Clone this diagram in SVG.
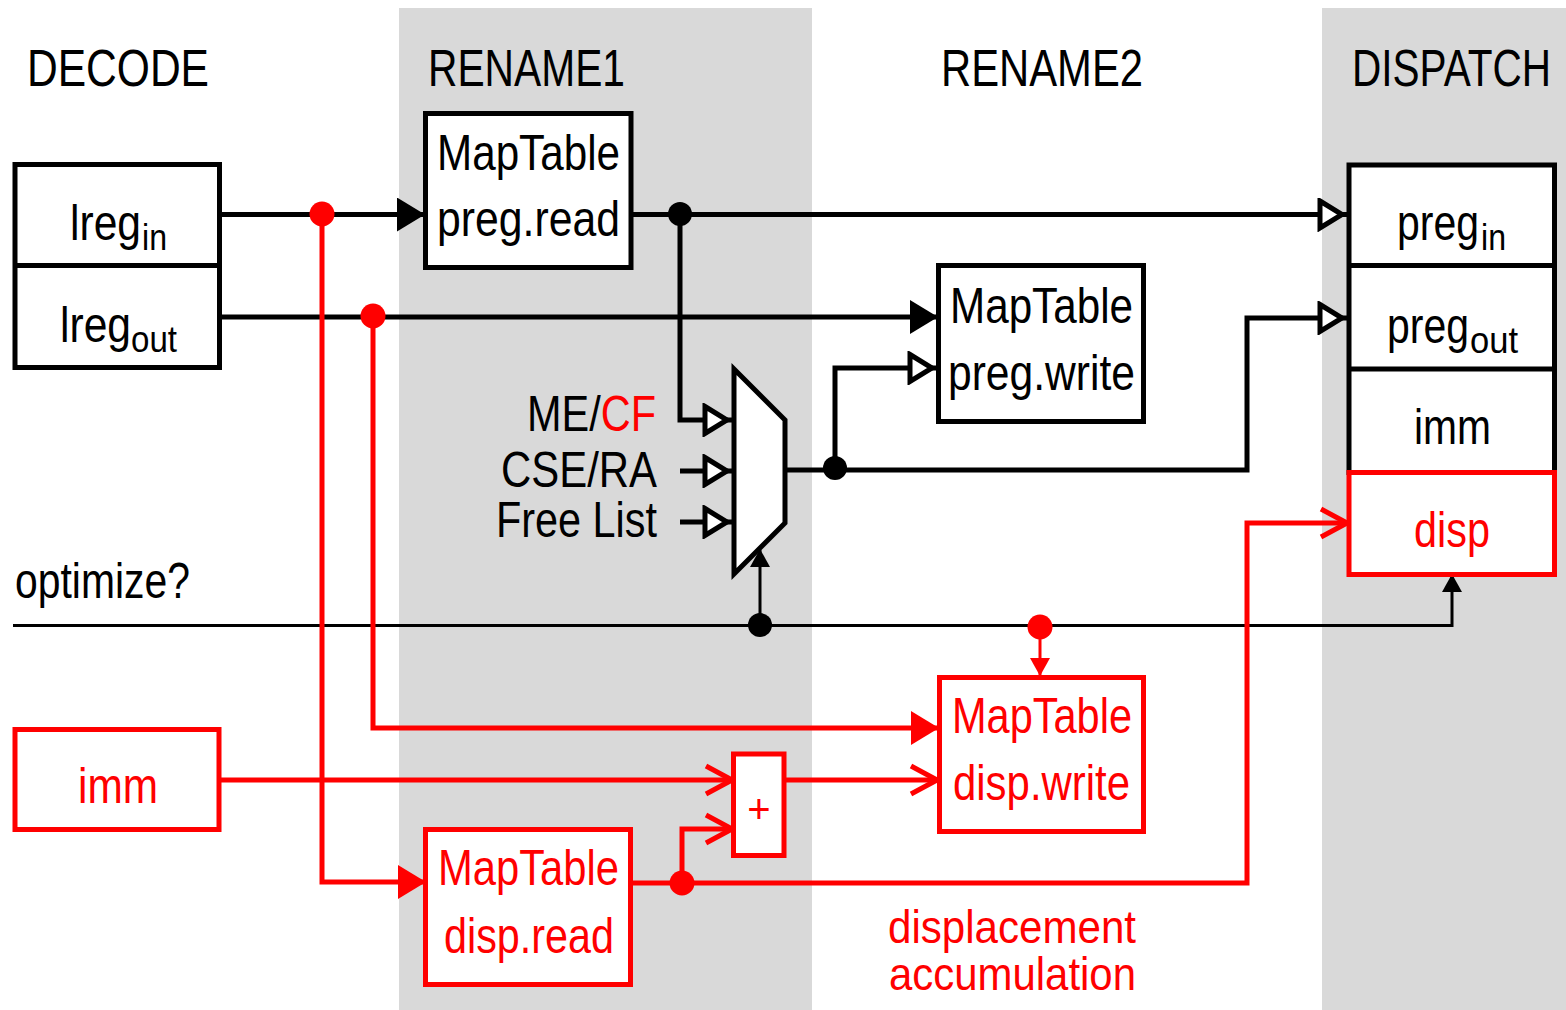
<svg xmlns="http://www.w3.org/2000/svg" width="1566" height="1010" viewBox="0 0 1566 1010">
<style>
text{font-family:"Liberation Sans",Arial,sans-serif;font-size:50px;fill:#000}
.hdr{font-size:52px}
.red{fill:#ff0000}
.sub{font-size:36px}
.box{fill:#fff;stroke:#000;stroke-width:5}
.rbox{fill:#fff;stroke:#ff0000;stroke-width:5}
.w{fill:none;stroke:#000;stroke-width:5}
.wt{fill:none;stroke:#000;stroke-width:3}
.r{fill:none;stroke:#ff0000;stroke-width:5}
.rt{fill:none;stroke:#ff0000;stroke-width:3}
.band{fill:#d9d9d9}
</style>
<defs>
<marker id="fb" markerUnits="userSpaceOnUse" viewBox="0 0 28 34" refX="27" refY="17" markerWidth="28" markerHeight="34" orient="auto"><path d="M0,0 L28,17 L0,34 Z" fill="#000"/></marker>
<marker id="fr" markerUnits="userSpaceOnUse" viewBox="0 0 28 34" refX="27" refY="17" markerWidth="28" markerHeight="34" orient="auto"><path d="M0,0 L28,17 L0,34 Z" fill="#ff0000"/></marker>
<marker id="ob" markerUnits="userSpaceOnUse" viewBox="0 0 32 34" refX="30" refY="17" markerWidth="32" markerHeight="34" orient="auto"><path d="M3,3.5 L25,17 L3,30.5 Z" fill="#fff" stroke="#000" stroke-width="5"/></marker>
<marker id="vr" markerUnits="userSpaceOnUse" viewBox="0 0 32 34" refX="29" refY="17" markerWidth="32" markerHeight="34" orient="auto"><path d="M2,3 L28,17 L2,31" fill="none" stroke="#ff0000" stroke-width="5"/></marker>
<marker id="sb" markerUnits="userSpaceOnUse" viewBox="0 0 18 22" refX="17" refY="11" markerWidth="18" markerHeight="22" orient="auto"><path d="M0,1 L18,11 L0,21 Z" fill="#000"/></marker>
<marker id="sr" markerUnits="userSpaceOnUse" viewBox="0 0 18 22" refX="17" refY="11" markerWidth="18" markerHeight="22" orient="auto"><path d="M0,1 L18,11 L0,21 Z" fill="#ff0000"/></marker>
</defs>

<g id="stages">
<rect class="band" x="399" y="8" width="413" height="1002"/>
<rect class="band" x="1322" y="8" width="244" height="1002"/>
<text class="hdr" x="27" y="86" textLength="182" lengthAdjust="spacingAndGlyphs">DECODE</text>
<text class="hdr" x="428" y="86" textLength="197" lengthAdjust="spacingAndGlyphs">RENAME1</text>
<text class="hdr" x="941" y="86" textLength="202" lengthAdjust="spacingAndGlyphs">RENAME2</text>
<text class="hdr" x="1352" y="86" textLength="199" lengthAdjust="spacingAndGlyphs">DISPATCH</text>
</g>

<g id="connectors">
<path class="w" d="M219,214.5 H424" marker-end="url(#fb)"/>
<path class="w" d="M219,317 H937" marker-end="url(#fb)"/>
<path class="w" d="M631,214.5 H1347" marker-end="url(#ob)"/>
<path class="w" d="M680,214.5 V420 H732" marker-end="url(#ob)"/>
<path class="w" d="M680,471 H732" marker-end="url(#ob)"/>
<path class="w" d="M680,522 H732" marker-end="url(#ob)"/>
<path class="w" d="M785,470 H1247 V318 H1347" marker-end="url(#ob)"/>
<path class="w" d="M835,470 V368 H937" marker-end="url(#ob)"/>
<path class="wt" d="M13,625.5 H1452 V575" marker-end="url(#sb)"/>
<path class="wt" d="M760,625.5 V550" marker-end="url(#sb)"/>
<circle cx="680" cy="214" r="12" fill="#000"/>
<circle cx="835" cy="468" r="12" fill="#000"/>
<circle cx="760" cy="625" r="12" fill="#000"/>
<path class="r" d="M322,214.5 V882 H425" marker-end="url(#fr)"/>
<path class="r" d="M373,317 V728 H938" marker-end="url(#fr)"/>
<path class="r" d="M219,780 H733" marker-end="url(#vr)"/>
<path class="r" d="M784,780 H938" marker-end="url(#vr)"/>
<path class="r" d="M631,883 H1247 V523 H1348" marker-end="url(#vr)"/>
<path class="r" d="M682,883 V829 H733" marker-end="url(#vr)"/>
<path class="rt" d="M1040,627 V675" marker-end="url(#sr)"/>
<circle cx="322" cy="214" r="12.5" fill="#ff0000"/>
<circle cx="373" cy="316" r="12.5" fill="#ff0000"/>
<circle cx="1040" cy="627" r="12.5" fill="#ff0000"/>
<circle cx="682" cy="883" r="12.5" fill="#ff0000"/>
</g>

<g id="decode">
<rect class="box" x="15" y="164.5" width="204.5" height="203"/>
<line x1="15" y1="265.5" x2="219.5" y2="265.5" stroke="#000" stroke-width="5"/>
<text x="70" y="240"><tspan textLength="71" lengthAdjust="spacingAndGlyphs">lreg</tspan><tspan class="sub" x="142" y="250" textLength="25" lengthAdjust="spacingAndGlyphs">in</tspan></text>
<text x="60" y="342"><tspan textLength="71" lengthAdjust="spacingAndGlyphs">lreg</tspan><tspan class="sub" x="131" y="352" textLength="46" lengthAdjust="spacingAndGlyphs">out</tspan></text>
</g>

<g id="maptable-preg-read">
<rect class="box" x="425.5" y="113.5" width="205.5" height="154"/>
<text x="437" y="170" textLength="183" lengthAdjust="spacingAndGlyphs">MapTable</text>
<text x="437" y="236" textLength="183" lengthAdjust="spacingAndGlyphs">preg.read</text>
</g>

<g id="maptable-preg-write">
<rect class="box" x="938.5" y="265.5" width="205" height="156"/>
<text x="950" y="323" textLength="183" lengthAdjust="spacingAndGlyphs">MapTable</text>
<text x="948" y="390" textLength="187" lengthAdjust="spacingAndGlyphs">preg.write</text>
</g>

<g id="mux">
<polygon points="734,369 785,420 785,523 734,574" fill="#fff" stroke="#000" stroke-width="5"/>
<text x="527" y="431" textLength="129" lengthAdjust="spacingAndGlyphs">ME/<tspan class="red">CF</tspan></text>
<text x="501" y="487" textLength="156" lengthAdjust="spacingAndGlyphs">CSE/RA</text>
<text x="496" y="537" textLength="161" lengthAdjust="spacingAndGlyphs">Free List</text>
</g>

<g id="optimize">
<text x="15" y="598" textLength="175" lengthAdjust="spacingAndGlyphs">optimize?</text>
</g>

<g id="dispatch">
<rect class="box" x="1349" y="165" width="205.5" height="307.5"/>
<line x1="1349" y1="265.5" x2="1554.5" y2="265.5" stroke="#000" stroke-width="5"/>
<line x1="1349" y1="369" x2="1554.5" y2="369" stroke="#000" stroke-width="5"/>
<text x="1397" y="240"><tspan textLength="82" lengthAdjust="spacingAndGlyphs">preg</tspan><tspan class="sub" x="1481" y="250" textLength="25" lengthAdjust="spacingAndGlyphs">in</tspan></text>
<text x="1387" y="343"><tspan textLength="82" lengthAdjust="spacingAndGlyphs">preg</tspan><tspan class="sub" x="1470" y="353" textLength="48" lengthAdjust="spacingAndGlyphs">out</tspan></text>
<text x="1414" y="444" textLength="77" lengthAdjust="spacingAndGlyphs">imm</text>
<rect class="rbox" x="1349" y="472.5" width="205.5" height="102"/>
<text class="red" x="1414" y="547" textLength="76" lengthAdjust="spacingAndGlyphs">disp</text>
</g>

<g id="imm">
<rect class="rbox" x="15" y="729.5" width="204" height="100"/>
<text class="red" x="78" y="803" textLength="80" lengthAdjust="spacingAndGlyphs">imm</text>
</g>

<g id="adder">
<rect class="rbox" x="733.5" y="754" width="50.5" height="101.5"/>
<text class="red" x="759" y="823" text-anchor="middle" style="font-size:40px">+</text>
</g>

<g id="maptable-disp-write">
<rect class="rbox" x="939.5" y="677.5" width="204" height="154"/>
<text class="red" x="952" y="733" textLength="180" lengthAdjust="spacingAndGlyphs">MapTable</text>
<text class="red" x="953" y="800" textLength="177" lengthAdjust="spacingAndGlyphs">disp.write</text>
</g>

<g id="maptable-disp-read">
<rect class="rbox" x="425.5" y="829.5" width="205" height="155"/>
<text class="red" x="438" y="885" textLength="181" lengthAdjust="spacingAndGlyphs">MapTable</text>
<text class="red" x="444" y="953" textLength="170" lengthAdjust="spacingAndGlyphs">disp.read</text>
</g>

<g id="displacement-label">
<text class="red" x="888" y="943" textLength="248" lengthAdjust="spacingAndGlyphs" style="font-size:46px">displacement</text>
<text class="red" x="889" y="990" textLength="247" lengthAdjust="spacingAndGlyphs" style="font-size:46px">accumulation</text>
</g>
</svg>
